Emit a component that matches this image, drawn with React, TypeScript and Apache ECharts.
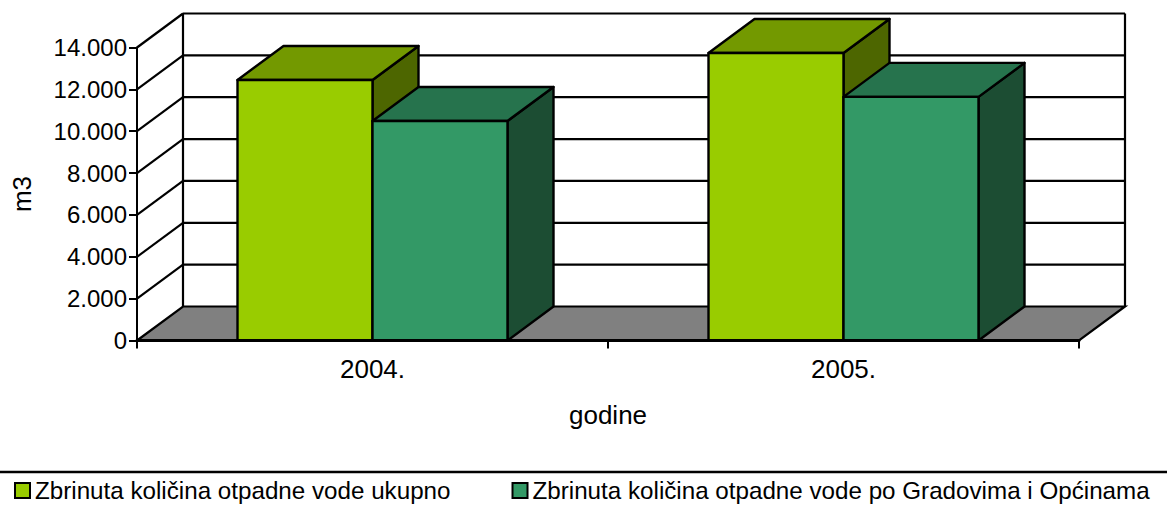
import React, { useEffect, useRef } from "react";
import * as echarts from "echarts";

const categories = ["2004.", "2005."];
const seriesNames = [
  "Zbrinuta količina otpadne vode ukupno",
  "Zbrinuta količina otpadne vode po Gradovima i Općinama",
];
const totalValues = [12450, 13740];
const cityValues = [10490, 11640];
const gridTicks = [0, 2000, 4000, 6000, 8000, 10000, 12000, 14000];
const FONT = "Liberation Sans";
const DX = 46;
const DY = -34;
const BAR_W = 135;

function fmt(v: number) {
  return v === 0 ? "0" : String(v).replace(/(\d)(\d{3})$/, "$1.$2");
}

function wallItem(params: any, api: any) {
  const v = api.value(0);
  const b = api.coord([0, v]);
  const x0 = b[0] - api.size([1, 0])[0] / 2;
  const x1 = x0 + api.size([1, 0])[0] * 2;
  const y = b[1];
  const children: any[] = [];
  const line = { stroke: "#000", lineWidth: 2.2, fill: null };
  if (v === 0) {
    children.push({
      type: "polygon",
      shape: { points: [[x0, y], [x0 + DX, y + DY], [x1 + DX, y + DY], [x1, y]] },
      style: { fill: "#808080", stroke: "#000", lineWidth: 2.2 },
    });
    const top = api.coord([0, 14000])[1];
    for (const x of [x0 + DX, x1 + DX]) {
      children.push({
        type: "line",
        shape: { x1: x, y1: y + DY, x2: x, y2: top + DY },
        style: line,
      });
    }
  } else {
    children.push({ type: "line", shape: { x1: x0, y1: y, x2: x0 + DX, y2: y + DY }, style: line });
    children.push({ type: "line", shape: { x1: x0 + DX, y1: y + DY, x2: x1 + DX, y2: y + DY }, style: line });
  }
  return { type: "group", children };
}

function barRenderer(side: number, front: string, top: string, right: string) {
  return (params: any, api: any) => {
    const c = api.coord([api.value(0), api.value(1)]);
    const b = api.coord([api.value(0), 0]);
    const l = side === 0 ? c[0] - BAR_W : c[0];
    const r = l + BAR_W;
    const style = (fill: string) => ({ fill, stroke: "#000", lineWidth: 2.4, lineJoin: "round" });
    return {
      type: "group",
      children: [
        {
          type: "polygon",
          shape: { points: [[r, c[1]], [r + DX, c[1] + DY], [r + DX, b[1] + DY], [r, b[1]]] },
          style: style(right),
        },
        {
          type: "polygon",
          shape: { points: [[l, c[1]], [l + DX, c[1] + DY], [r + DX, c[1] + DY], [r, c[1]]] },
          style: style(top),
        },
        {
          type: "polygon",
          shape: { points: [[l, c[1]], [r, c[1]], [r, b[1]], [l, b[1]]] },
          style: style(front),
        },
      ],
    };
  };
}

export default function App() {
  const ref = useRef<HTMLDivElement>(null);
  useEffect(() => {
    document.body.style.margin = "0";
    const chart = echarts.init(ref.current!, null, { renderer: "svg" });
    const axisText = { fontFamily: FONT, fontSize: 24, color: "#000" };
    const bigText = { fontFamily: FONT, fontSize: 26, color: "#000" };
    chart.setOption({
      animation: false,
      backgroundColor: "#fff",
      textStyle: { fontFamily: FONT },
      grid: { left: 137, top: 47.5, width: 942, height: 293, containLabel: false, outerBoundsMode: "none" },
      xAxis: {
        type: "category",
        data: categories,
        z: 10,
        name: "godine",
        nameLocation: "middle",
        nameGap: 61,
        nameTextStyle: bigText,
        axisLine: { show: true, lineStyle: { color: "#000", width: 3 } },
        axisTick: { show: true, alignWithLabel: false, length: 8, lineStyle: { color: "#000", width: 2 } },
        axisLabel: { ...bigText, margin: 15 },
        splitLine: { show: false },
      },
      yAxis: {
        type: "value",
        min: 0,
        max: 14000,
        interval: 2000,
        z: 10,
        name: "m3",
        nameLocation: "middle",
        nameGap: 102,
        nameTextStyle: bigText,
        axisLine: { show: true, lineStyle: { color: "#000", width: 2 } },
        axisTick: { show: true, length: 8, lineStyle: { color: "#000", width: 2 } },
        axisLabel: { ...axisText, margin: 10, formatter: (v: number) => fmt(v) },
        splitLine: { show: false },
      },
      legend: {
        left: 14,
        top: 478.5,
        itemWidth: 15,
        itemHeight: 15,
        itemGap: 61,
        icon: "rect",
        padding: 0,
        textStyle: { fontFamily: FONT, fontSize: 24.2, color: "#000", padding: 0 },
        data: [
          { name: seriesNames[0], itemStyle: { color: "#99CC00", borderColor: "#000", borderWidth: 2 } },
          { name: seriesNames[1], itemStyle: { color: "#339966", borderColor: "#000", borderWidth: 2 } },
        ],
      },
      graphic: [
        {
          type: "line",
          shape: { x1: 0, y1: 472, x2: 1167, y2: 472 },
          style: { stroke: "#000", lineWidth: 2.5 },
        },
      ],
      series: [
        {
          type: "custom",
          name: "walls",
          coordinateSystem: "cartesian2d",
          renderItem: wallItem,
          data: gridTicks.map((v) => [v]),
          encode: { y: 0 },
          z: 1,
          silent: true,
        },
        {
          type: "custom",
          name: seriesNames[0],
          coordinateSystem: "cartesian2d",
          renderItem: barRenderer(0, "#99CC00", "#739900", "#4D6600"),
          data: categories.map((_, i) => [i, totalValues[i]]),
          encode: { x: 0, y: 1 },
          z: 2,
        },
        {
          type: "custom",
          name: seriesNames[1],
          coordinateSystem: "cartesian2d",
          renderItem: barRenderer(1, "#339966", "#26734D", "#1C4D33"),
          data: categories.map((_, i) => [i, cityValues[i]]),
          encode: { x: 0, y: 1 },
          z: 3,
        },
      ],
    });
    return () => chart.dispose();
  }, []);
  return <div ref={ref} style={{ width: 1167, height: 510 }} />;
}
